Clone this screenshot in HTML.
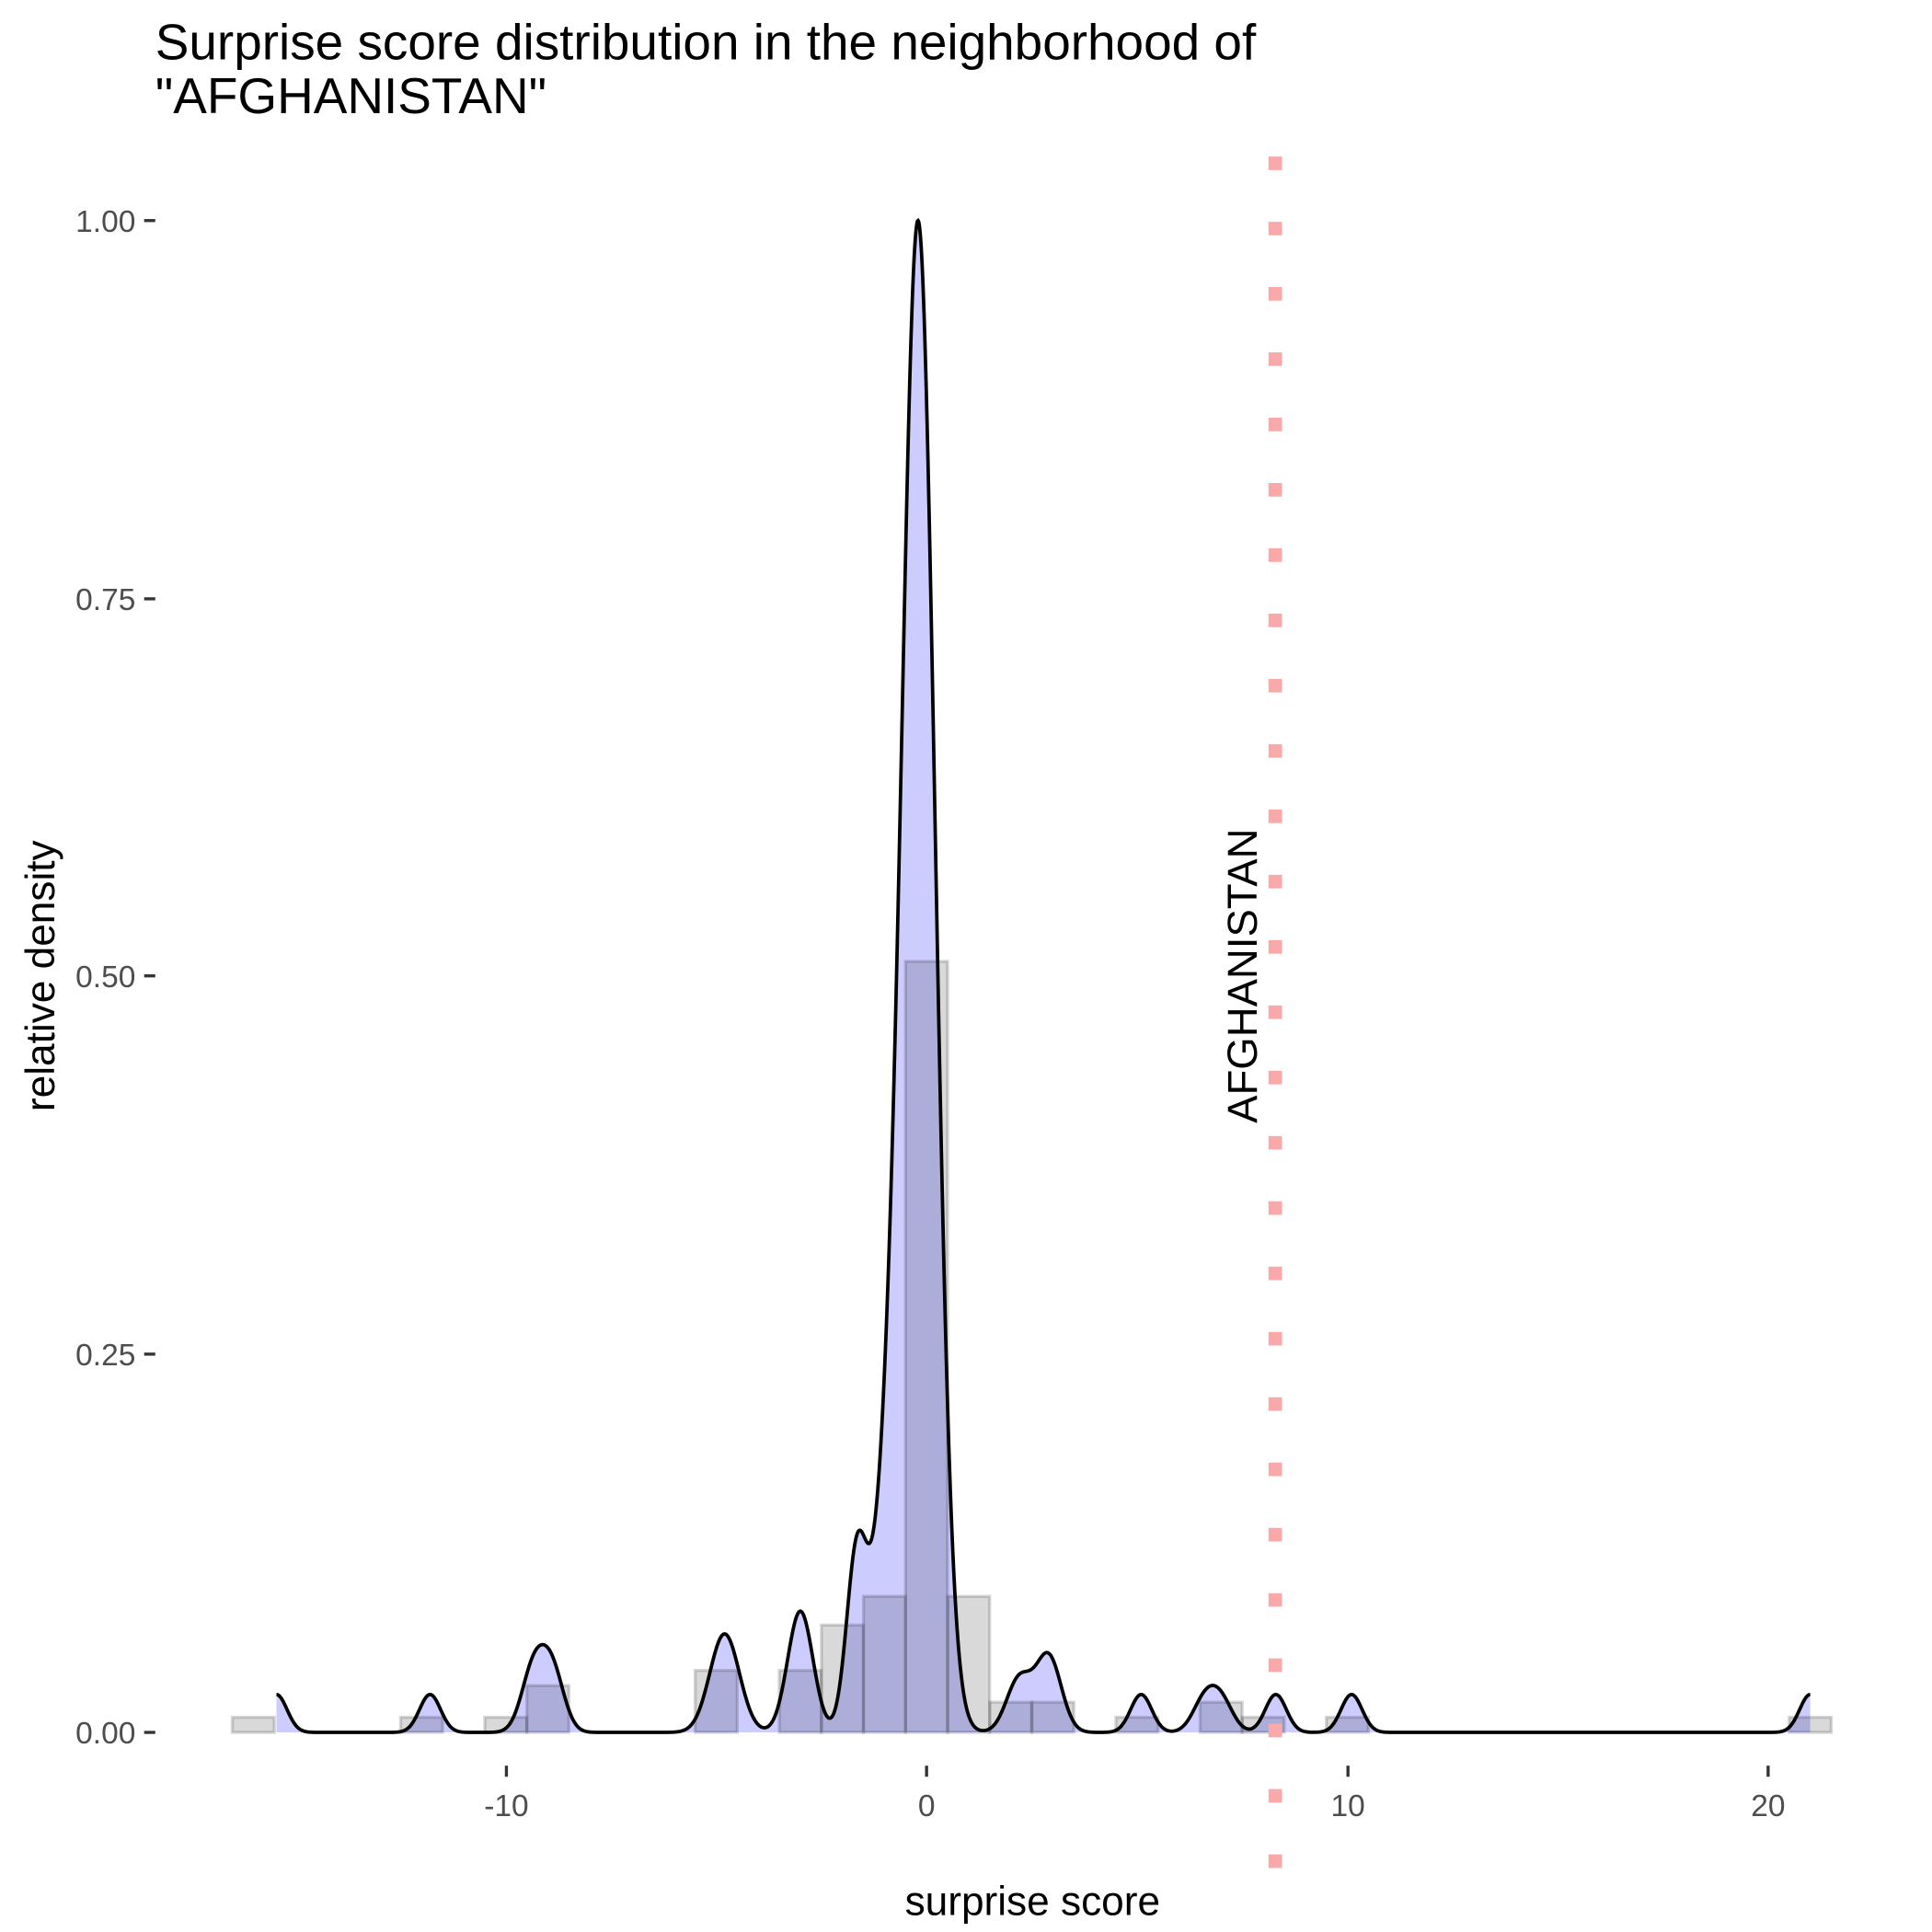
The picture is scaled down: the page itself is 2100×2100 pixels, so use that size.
<!DOCTYPE html>
<html><head><meta charset="utf-8"><style>
html,body{margin:0;padding:0;background:#fff;}
svg{display:block;font-family:"Liberation Sans",Arial,sans-serif;}
</style></head><body>
<svg id="s" width="2100" height="2100" viewBox="0 0 1568 1568" xmlns="http://www.w3.org/2000/svg">
<rect width="1568" height="1568" fill="#fff"/>
<path id="dfill" fill="rgb(204,204,255)" stroke="none"/>
<g id="bars" fill="rgba(0,0,0,0.15)" stroke="rgba(0,0,0,0.16)" stroke-width="2.5"></g>
<path id="dline" fill="none" stroke="#000" stroke-width="2.8"/>
<line x1="1035" y1="127" x2="1035" y2="1545" stroke="#f9a9a9" stroke-width="11" stroke-dasharray="11 42"/>
<text transform="translate(1020,792) rotate(-90)" text-anchor="middle" font-size="34" fill="#000">AFGHANISTAN</text>
<text x="126" y="48" font-size="41" fill="#000">Surprise score distribution in the neighborhood of</text>
<text x="126" y="92" font-size="41" fill="#000">"AFGHANISTAN"</text>
<g font-size="25" fill="#4d4d4d" text-anchor="end">
<text x="110" y="188">1.00</text>
<text x="110" y="495">0.75</text>
<text x="110" y="801">0.50</text>
<text x="110" y="1108">0.25</text>
<text x="110" y="1415">0.00</text>
</g>
<g stroke="#333" stroke-width="2.5">
<line x1="117" y1="179" x2="126" y2="179"/>
<line x1="117" y1="486" x2="126" y2="486"/>
<line x1="117" y1="792" x2="126" y2="792"/>
<line x1="117" y1="1099" x2="126" y2="1099"/>
<line x1="117" y1="1406" x2="126" y2="1406"/>
<line x1="411" y1="1433" x2="411" y2="1442"/>
<line x1="752" y1="1433" x2="752" y2="1442"/>
<line x1="1094" y1="1433" x2="1094" y2="1442"/>
<line x1="1435" y1="1433" x2="1435" y2="1442"/>
</g>
<g font-size="25" fill="#4d4d4d" text-anchor="middle">
<text x="411" y="1474">-10</text>
<text x="752" y="1474">0</text>
<text x="1094" y="1474">10</text>
<text x="1435" y="1474">20</text>
</g>
<text x="838" y="1554" font-size="33" text-anchor="middle" fill="#000">surprise score</text>
<text transform="translate(44,792) rotate(-90)" font-size="33" text-anchor="middle" fill="#000">relative density</text>
</svg>
<script>
function X(v){return 752+34.15*v;}
function Y(v){return 1406-1227*v;}
var bins=[[-16,.01],[-12,.01],[-10,.01],[-9,.031],[-5,.041],[-3,.041],[-2,.071],[-1,.09],[0,.51],[1,.09],[2,.02],[3,.02],[5,.01],[7,.02],[8,.01],[10,.01],[21,.01]];
var g=document.getElementById('bars'),h='';
bins.forEach(function(b){var x0=X(b[0]-.5),x1=X(b[0]+.5);h+='<rect x="'+x0+'" y="'+Y(b[1])+'" width="'+(x1-x0)+'" height="'+(1406-Y(b[1]))+'"/>';});
g.innerHTML=h;
var C=[[.025,-15.45,.25],[.025,-11.8,.25],[.04,-9.35,.28],[.04,-8.9,.28],[.065,-4.8,.35],[.08,-3.0,.3],[.12,-1.65,.25],[.1,-1.0,.3],[.995,-0.2,.4],[.035,2.2,.3],[.05,2.9,.3],[.025,5.1,.25],[.02,6.6,.28],[.02,7.0,.28],[.025,8.3,.25],[.025,10.1,.25],[.025,21.0,.25]];
function f(x){var s=0;C.forEach(function(c){var d=(x-c[1])/c[2];s+=c[0]*Math.exp(-.5*d*d);});return s;}
var a=-15.45,b=21.0,xs=[],ys=[],mx=0;
for(var i=0;i<=3000;i++){var x=a+(b-a)*i/3000,v=f(x);xs.push(x);ys.push(v);if(v>mx)mx=v;}
var pts=[];
for(var i=0;i<xs.length;i++){pts.push(X(xs[i]).toFixed(2)+','+Y(ys[i]/mx).toFixed(2));}
var line='M'+pts.join('L');
document.getElementById('dline').setAttribute('d',line);
document.getElementById('dfill').setAttribute('d',line+'L'+X(b)+',1406L'+X(a)+',1406Z');
</script>
</body></html>
